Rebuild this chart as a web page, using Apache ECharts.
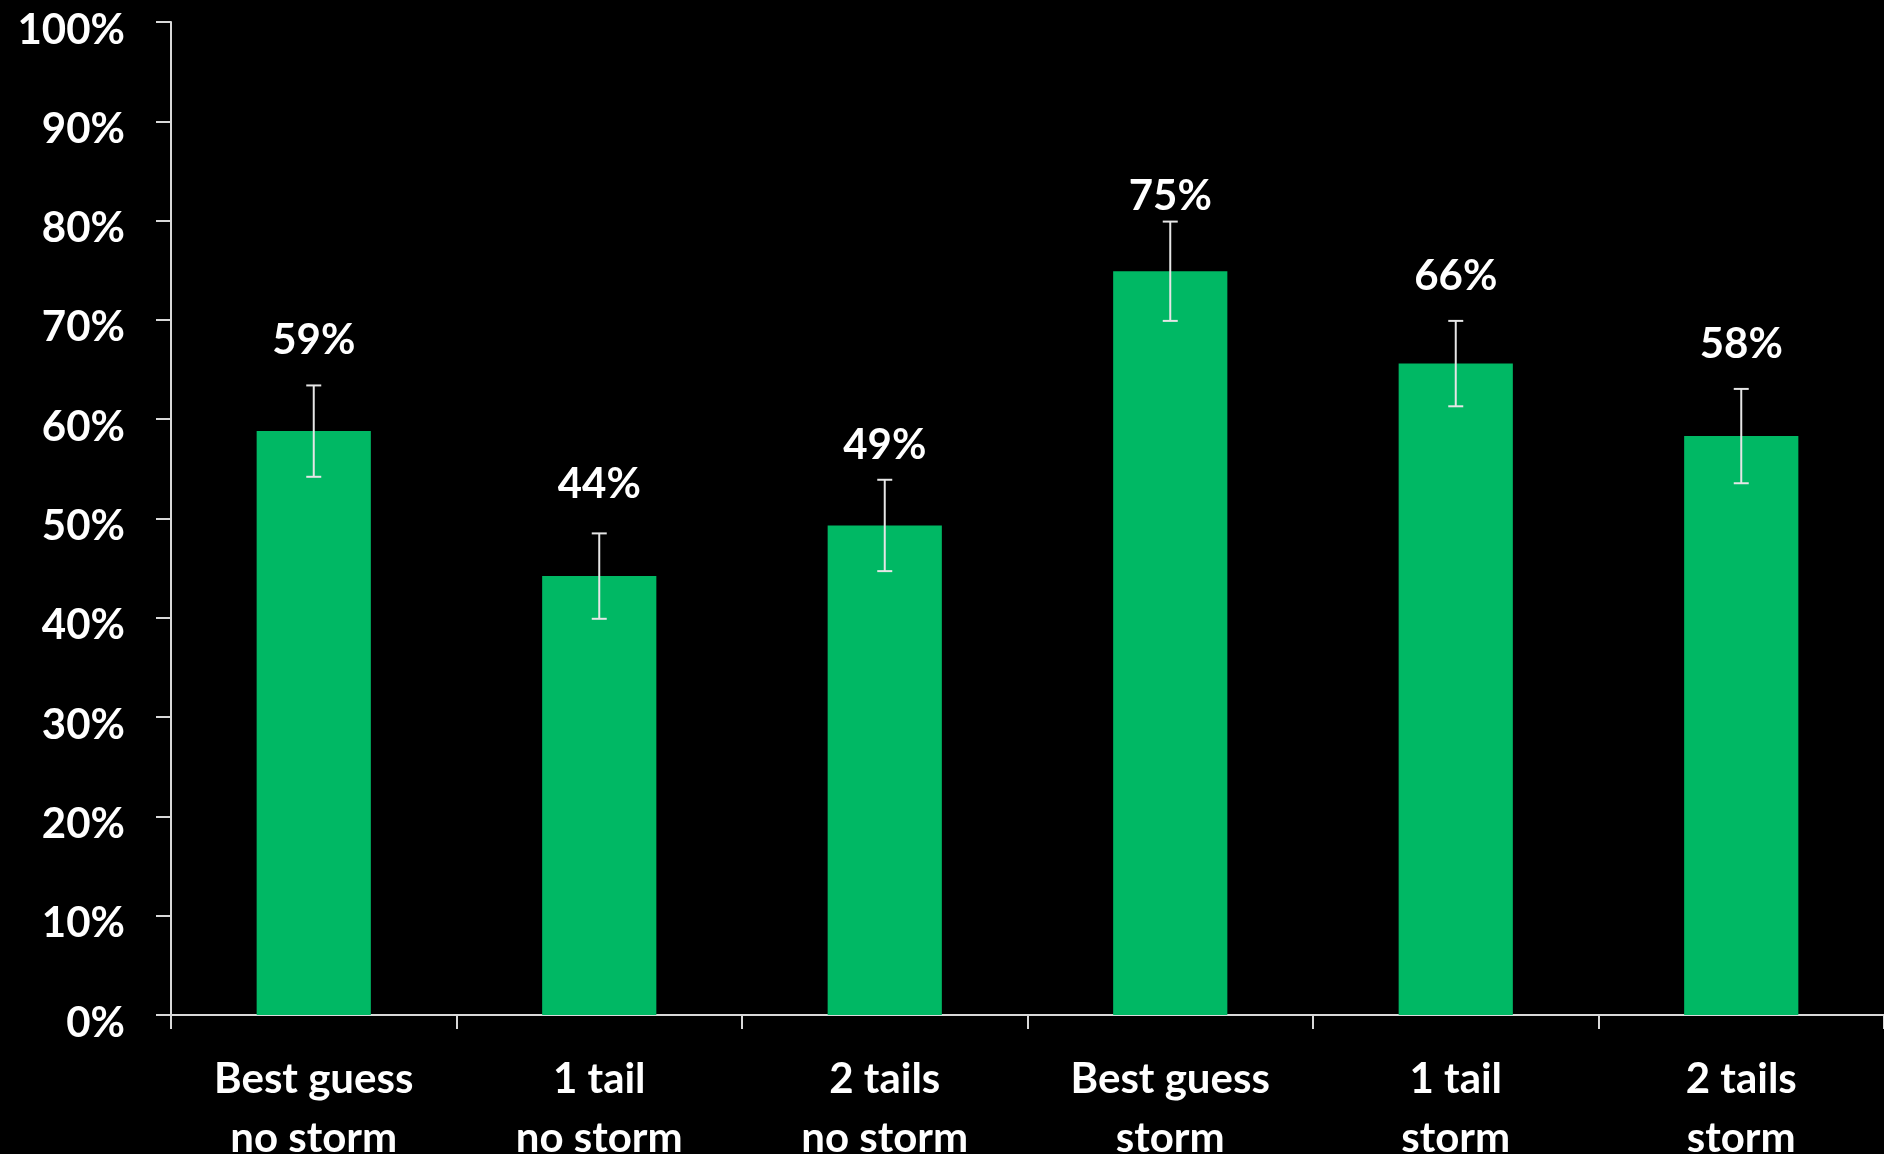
<!DOCTYPE html>
<html>
<head>
<meta charset="utf-8">
<script src="https://cdn.jsdelivr.net/npm/echarts@6/dist/echarts.min.js"></script>
<style>
  html, body { margin: 0; padding: 0; background: #000; }
  #chart { width: 1884px; height: 1154px; }
</style>
</head>
<body>
<div id="chart"></div>
<script>
// ---- data ----
var categories = [
  'Best guess\nno storm',
  '1 tail\nno storm',
  '2 tails\nno storm',
  'Best guess\nstorm',
  '1 tail\nstorm',
  '2 tails\nstorm'
];
var values = [0.588, 0.442, 0.493, 0.749, 0.656, 0.583];
var errors = [0.046, 0.043, 0.046, 0.050, 0.043, 0.0475];
var yTicks = [0, 0.1, 0.2, 0.3, 0.4, 0.5, 0.6, 0.7, 0.8, 0.9, 1.0];

// ---- style ----
var FONT = 'Lato, "Open Sans", sans-serif';
var AXIS_COLOR = '#d9d9d9';
var BAR_COLOR = '#00B864';
var ERR_COLOR = '#e6e6e6';
var labelGap = [45, 49, 34, 25, 44, 44]; // px between error-bar cap and label centre

var chart = echarts.init(document.getElementById('chart'), null, { renderer: 'canvas' });

var errData = values.map(function (v, i) { return [i, v, errors[i]]; });

var option = {
  backgroundColor: '#000000',
  animation: false,
  grid: {
    left: 171, right: 0, top: 22, bottom: 139,
    containLabel: false,
    outerBoundsMode: 'none'
  },
  xAxis: {
    type: 'category',
    data: categories,
    boundaryGap: true,
    axisLine: { lineStyle: { color: AXIS_COLOR, width: 2 } },
    axisTick: { show: true, length: 14, lineStyle: { color: AXIS_COLOR, width: 2 } },
    axisLabel: {
      interval: 0,
      margin: 35,
      color: '#ffffff',
      fontFamily: FONT,
      fontWeight: 'bold',
      fontSize: 42,
      lineHeight: 59
    }
  },
  yAxis: {
    type: 'value',
    min: yTicks[0],
    max: yTicks[yTicks.length - 1],
    interval: 0.1,
    splitLine: { show: false },
    axisLine: { show: true, lineStyle: { color: AXIS_COLOR, width: 2 } },
    axisTick: { show: true, length: 15, lineStyle: { color: AXIS_COLOR, width: 2 } },
    axisLabel: {
      margin: 46,
      color: '#ffffff',
      fontFamily: FONT,
      fontWeight: 'bold',
      fontSize: 42,
      formatter: function (v) { return '{t|' + Math.round(v * 100) + '%}'; },
      rich: {
        t: {
          color: '#ffffff',
          fontFamily: FONT,
          fontWeight: 'bold',
          fontSize: 42,
          padding: [16, 0, 0, 0]
        }
      }
    }
  },
  series: [
    {
      type: 'bar',
      data: values,
      barWidth: '40%',
      itemStyle: { color: BAR_COLOR }
    },
    {
      type: 'custom',
      data: errData,
      z: 10,
      renderItem: function (params, api) {
        var i = api.value(0);
        var v = api.value(1);
        var e = api.value(2);
        var hi = api.coord([i, v + e]);
        var lo = api.coord([i, v - e]);
        var cap = 7.5;
        var style = { stroke: ERR_COLOR, lineWidth: 2 };
        return {
          type: 'group',
          children: [
            { type: 'line', shape: { x1: hi[0], y1: hi[1], x2: lo[0], y2: lo[1] }, style: style },
            { type: 'line', shape: { x1: hi[0] - cap, y1: hi[1], x2: hi[0] + cap, y2: hi[1] }, style: style },
            { type: 'line', shape: { x1: lo[0] - cap, y1: lo[1], x2: lo[0] + cap, y2: lo[1] }, style: style },
            {
              type: 'text',
              x: hi[0],
              y: hi[1] - labelGap[params.dataIndex],
              style: {
                text: Math.round(v * 100) + '%',
                fill: '#ffffff',
                font: 'bold 42px ' + FONT,
                align: 'center',
                verticalAlign: 'middle'
              }
            }
          ]
        };
      }
    }
  ]
};

chart.setOption(option);
</script>
</body>
</html>
